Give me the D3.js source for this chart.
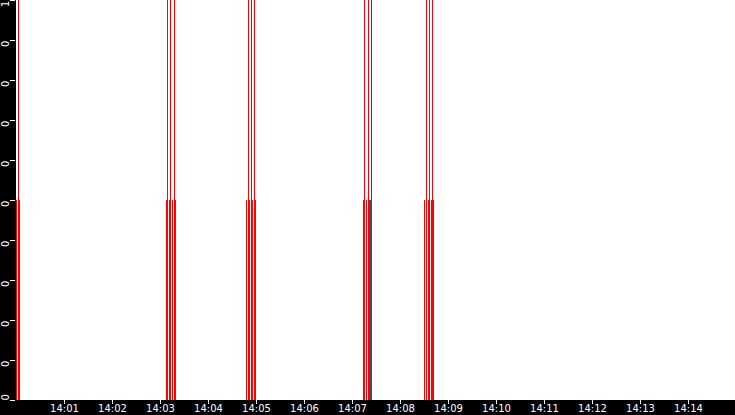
<!DOCTYPE html>
<html lang="en">
<head>
<meta charset="UTF-8">
<title>Event timeline</title>
<style>
  body { margin: 0; background: #000; }
  svg { display: block; }
</style>
</head>
<body>
<script src="https://d3js.org/d3.v7.min.js"></script>
<div id="chart"></div>
<script>
// seconds after 14:00:00 and value of every event
const redTimes  = [0.6, 2.5, 4.4,
                   188.1, 189.4, 191.9, 193.1, 195, 198.1, 199.4,
                   288.1, 290, 291.9, 294.1, 296, 298.1,
                   433.8, 435.6, 437.9, 440, 441.9, 443.8,
                   510.6, 512.5, 515, 516.9, 518.8, 520];
const redValues = [0.5, 1, 0.5,
                   0.5, 1, 0.5, 1, 0.5, 1, 0.5,
                   0.5, 1, 0.5, 1, 0.5, 1,
                   0.5, 1, 0.5, 1, 0.5, 1,
                   0.5, 1, 0.5, 1, 0.5, 1];
const blueTimes  = [299.8, 442.5, 521.3];
const blueValues = [0.5, 0.5, 0.5];

const yTickValues = [0, 0.1, 0.2, 0.3, 0.4, 0.5, 0.6, 0.7, 0.8, 0.9, 1];
const yTickLabels = ["0", "0", "0", "0", "0", "0", "0", "0", "0", "0", "1"];

const width = 735, height = 415;
const margin = {top: 0, right: 0, bottom: 15, left: 16};
const t0 = new Date(2024, 0, 1, 14, 0, 0);
const sec = s => new Date(t0.getTime() + s * 1000);

const svg = d3.select("#chart").append("svg")
    .attr("width", width)
    .attr("height", height)
    .style("font-family", "DejaVu Sans")
    .style("font-size", "10px");

const x = d3.scaleTime()
    .domain([t0, sec(900)])
    .range([margin.left, margin.left + 720]);

const y = d3.scaleLinear()
    .domain([0, 1])
    .range([height - margin.bottom, margin.top]);

// plot background
svg.append("rect")
    .attr("x", margin.left)
    .attr("y", margin.top)
    .attr("width", width - margin.left)
    .attr("height", height - margin.bottom - margin.top)
    .attr("fill", "#fff");

// the event lines
function drawEvents(times, values, colour, w) {
  svg.append("g")
    .selectAll("line")
    .data(times.map((t, i) => ({t: t, v: values[i]})))
    .join("line")
      .attr("x1", d => x(sec(d.t)))
      .attr("x2", d => x(sec(d.t)))
      .attr("y1", y(0))
      .attr("y2", d => y(d.v))
      .attr("stroke", colour)
      .attr("stroke-width", w)
      .attr("shape-rendering", "crispEdges");
}
drawEvents(redTimes, redValues, "#ff0000", 1);
drawEvents(blueTimes, blueValues, "#3c4f78", 1);

// x axis
const xAxis = svg.append("g")
    .attr("transform", "translate(0," + y(0) + ")")
    .call(d3.axisBottom(x)
      .ticks(d3.timeMinute.every(1))
      .tickFormat(d3.timeFormat("%H:%M"))
      .tickSize(4)
      .tickPadding(1));
xAxis.select(".domain").remove();
xAxis.selectAll(".tick")
    .filter(d => d.getTime() === t0.getTime() || x(d) > width - 10)
    .remove();
xAxis.selectAll("line").attr("stroke", "#fff");
xAxis.selectAll("text").attr("fill", "#fff").style("font-size", "10px").style("font-family", "DejaVu Sans");

// y axis
const yAxis = svg.append("g")
    .attr("transform", "translate(" + margin.left + ",0)")
    .call(d3.axisLeft(y)
      .tickValues(yTickValues)
      .tickFormat((d, i) => yTickLabels[i])
      .tickSize(5));
yAxis.select(".domain").remove();
yAxis.selectAll("line").attr("stroke", "#fff").attr("transform", "translate(-1,0)");
yAxis.selectAll("text")
    .attr("fill", "#fff")
    .style("font-size", "10px")
    .style("font-family", "DejaVu Sans")
    .attr("x", null).attr("dy", null)
    .attr("text-anchor", (d, i) => i === 0 ? "start" : "end")
    .attr("transform", "translate(-7,0) rotate(-90)");
</script>
</body>
</html>
